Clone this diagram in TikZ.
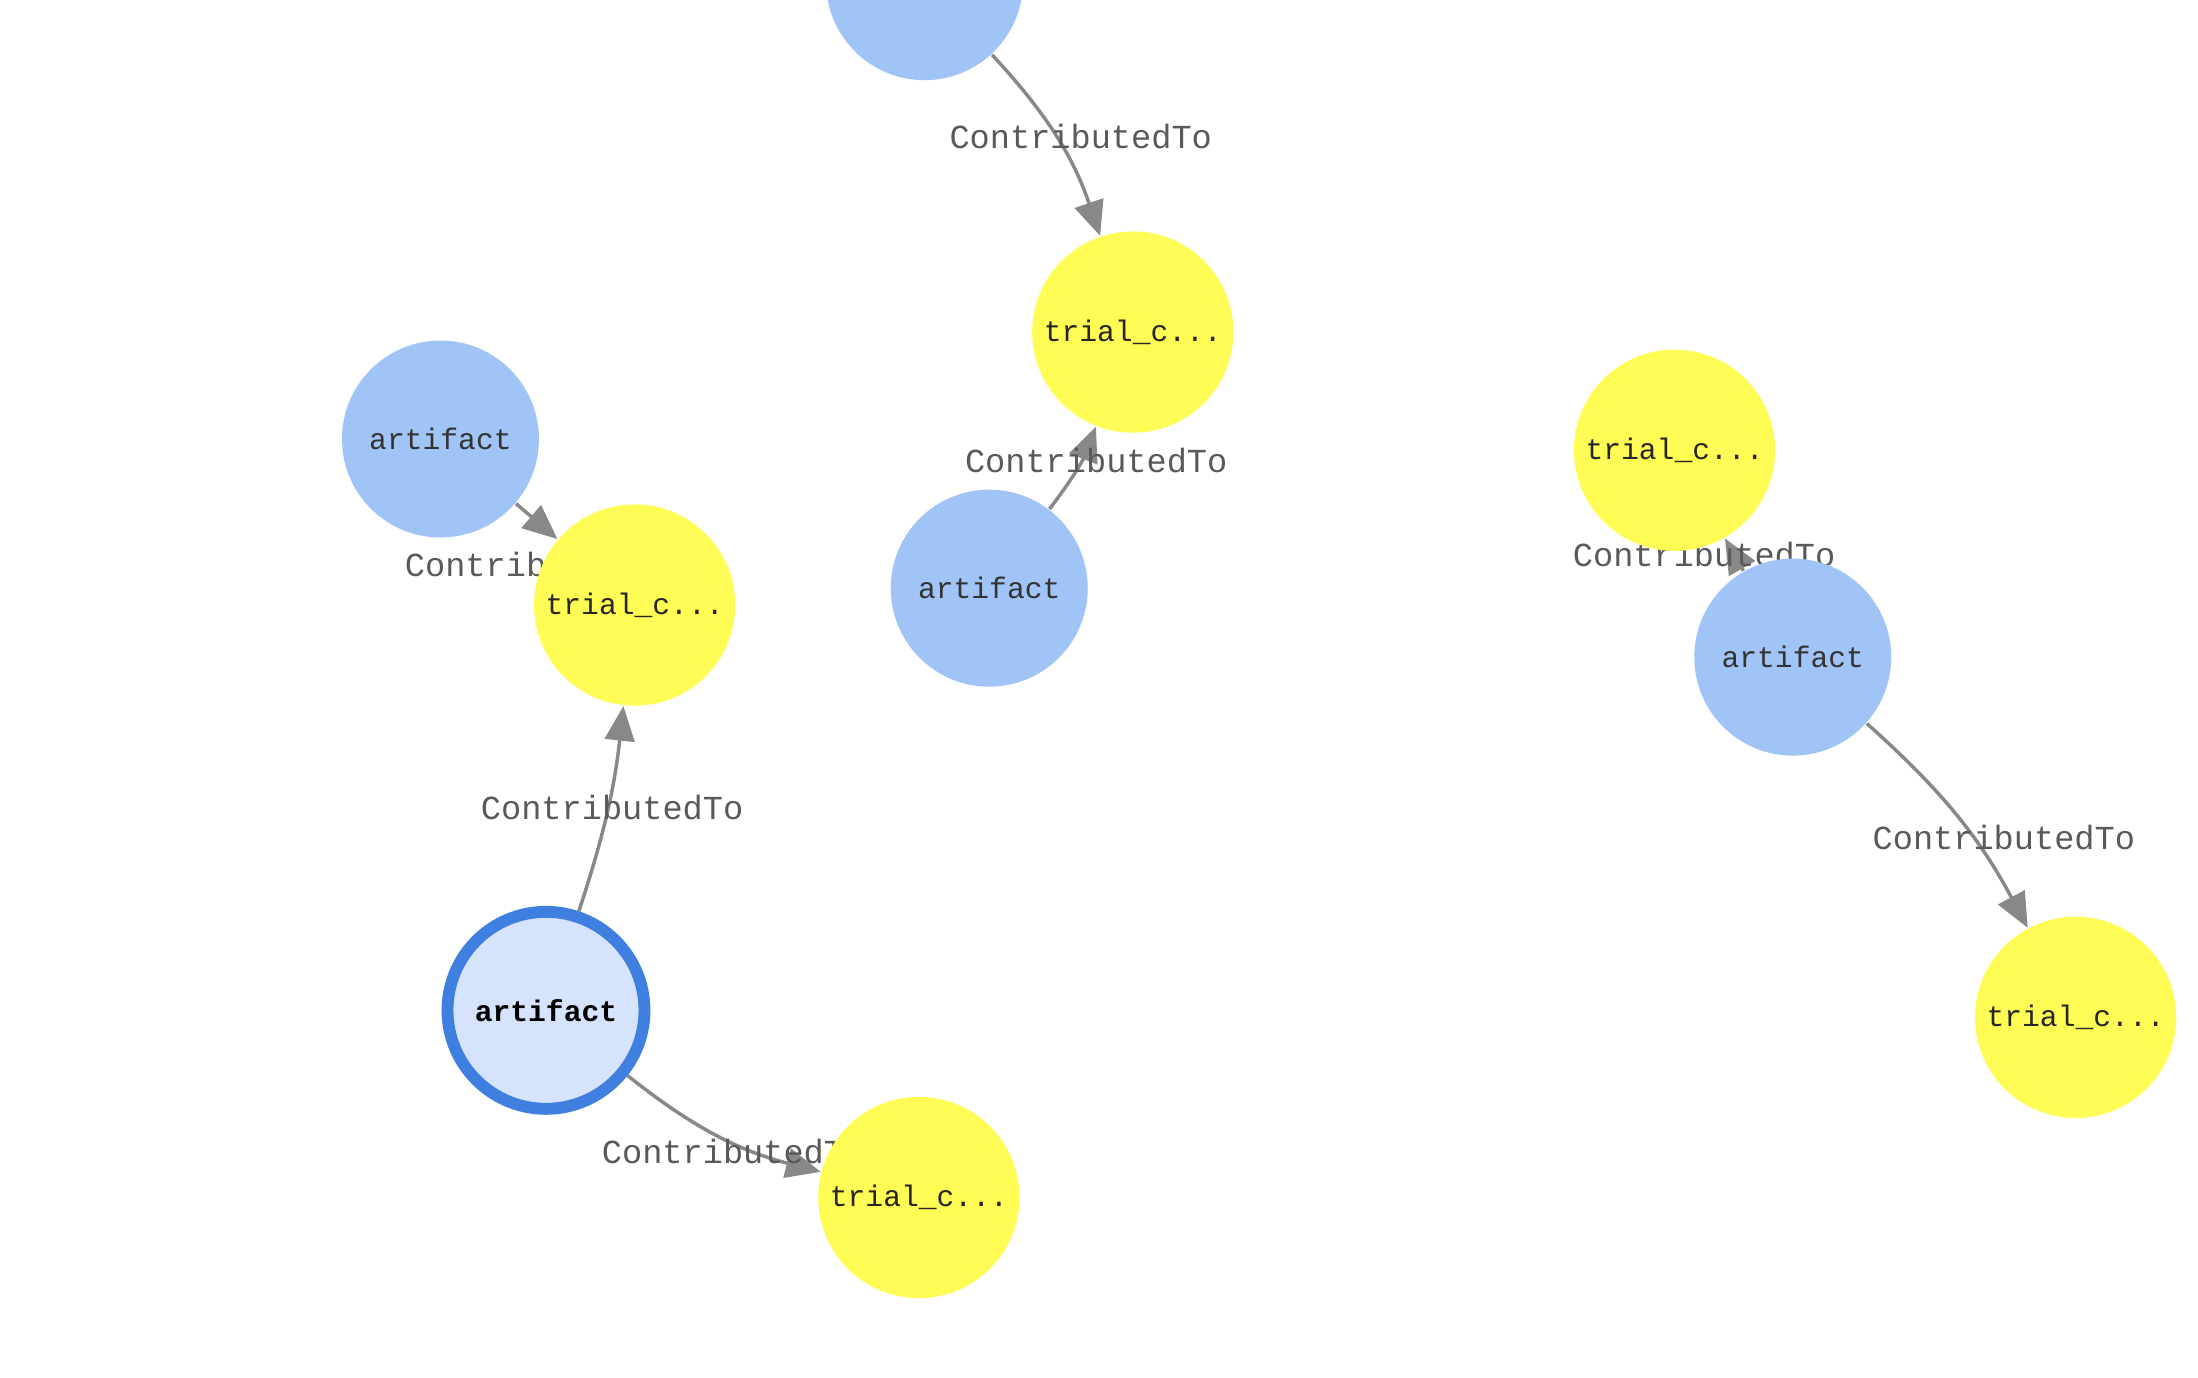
\documentclass[tikz,border=0pt]{standalone}
\usepackage{fontspec}
\setmonofont{Liberation Mono}
\usetikzlibrary{arrows.meta, backgrounds}
\definecolor{artblue}{HTML}{A0C4F5}
\definecolor{trialyellow}{HTML}{FFFC55}
\definecolor{focusfill}{HTML}{D5E3FC}
\definecolor{focusring}{HTML}{3F7FE0}
\definecolor{edgegray}{HTML}{888888}

\begin{document}
\begin{tikzpicture}
\tikzset{
  artifactnode/.style={circle, minimum size=1.40cm, inner sep=0pt, fill=artblue, font=\ttfamily\fontsize{6}{7}\selectfont, text=black!80},
  trialnode/.style={circle, minimum size=1.43cm, inner sep=0pt, fill=trialyellow, font=\ttfamily\fontsize{6}{7}\selectfont, text=black!85},
  focusnode/.style={artifactnode, fill=focusfill, draw=focusring, line width=2.4pt, font=\ttfamily\bfseries\fontsize{6}{7}\selectfont, text=black},
  relation/.style={draw=edgegray, line width=0.7pt, -{Triangle[length=7pt, width=6pt]}},
  rellabel/.style={font=\ttfamily\fontsize{6.8}{8}\selectfont, text=black!65, inner sep=0pt}
}
\useasboundingbox (0,0) rectangle (15.62,9.79);
\clip (0,0) rectangle (15.62,9.79);

% nodes
\node (art0) [artifactnode] at (6.57,9.92) {};
\node (trial1) [trialnode] at (8.05,7.43) {trial\_c...};
\node (art1) [artifactnode] at (7.03,5.61) {artifact};
\node (art2) [artifactnode] at (3.13,6.67) {artifact};
\node (trial2) [trialnode] at (4.51,5.49) {trial\_c...};
\node (focus) [focusnode] at (3.88,2.61) {artifact};
\node (trial3) [trialnode] at (6.53,1.28) {trial\_c...};
\node (trial4) [trialnode] at (11.90,6.59) {trial\_c...};
\node (art4) [artifactnode] at (12.74,5.12) {artifact};
\node (trial5) [trialnode] at (14.75,2.56) {trial\_c...};

\begin{scope}[on background layer]
% edges
\draw[relation] (art0) to[bend left=12] (trial1);
\draw[relation] (art1) to[bend right=8] (trial1);
\draw[relation] (art2) -- (trial2);
\draw[relation] (focus) to[bend right=6] (trial2);
\draw[relation] (focus) to[bend right=12] (trial3);
\draw[relation] (art4) -- (trial4);
\draw[relation] (art4) to[bend left=10] (trial5);
% labels
\node (lab1) [rellabel] at (7.68,8.82) {ContributedTo};
\node (lab2) [rellabel] at (7.79,6.52) {ContributedTo};
\node (lab3) [rellabel] at (3.81,5.78) {ContributedTo};
\node (lab4) [rellabel] at (4.35,4.05) {ContributedTo};
\node (lab5) [rellabel] at (5.21,1.61) {ContributedTo};
\node (lab6) [rellabel] at (12.11,5.85) {ContributedTo};
\node (lab7) [rellabel] at (14.24,3.84) {ContributedTo};
\end{scope}
\end{tikzpicture}
\end{document}
